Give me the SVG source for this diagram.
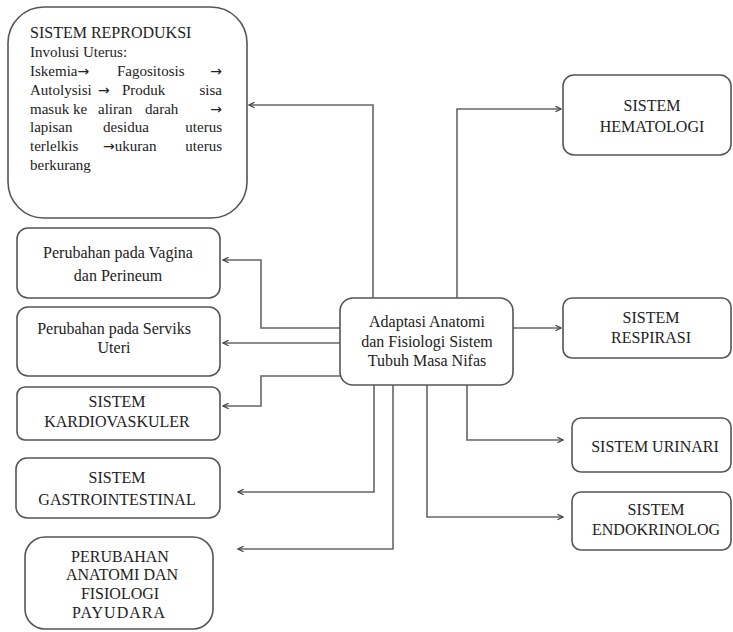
<svg xmlns="http://www.w3.org/2000/svg" width="733" height="632" viewBox="0 0 733 632">
<defs>
<style>
.box{fill:#fff;stroke:#555;stroke-width:1.6}
.t{font-family:'Liberation Serif','Times New Roman','DejaVu Serif',serif;font-size:16px;fill:#222}
.s{font-size:15px}
.a{font-family:'DejaVu Sans',sans-serif;font-size:14px}
.c{text-anchor:middle}
.e{text-anchor:end}
.ln{fill:none;stroke:#666;stroke-width:1.6;marker-end:url(#ah)}
</style>
<marker id="ah" viewBox="0 0 10 10" refX="9" refY="5" markerWidth="7" markerHeight="7" markerUnits="userSpaceOnUse" orient="auto">
<path d="M1,1 L9,5 L1,9" fill="none" stroke="#444" stroke-width="1.8"/>
</marker>
</defs>
<rect width="733" height="632" fill="#fff"/>
<g id="connectors">
<path class="ln" d="M373,298 V105 H249"/>
<path class="ln" d="M457,298 V109 H561"/>
<path class="ln" d="M340,328 H261 V260 H223"/>
<path class="ln" d="M340,343 H223"/>
<path class="ln" d="M340,376 H261 V406 H223"/>
<path class="ln" d="M513,328 H561"/>
<path class="ln" d="M374,385 V492 H238"/>
<path class="ln" d="M393,385 V549 H238"/>
<path class="ln" d="M427,385 V517 H563"/>
<path class="ln" d="M467,385 V440 H563"/>
</g>
<g id="reproduksi">
<rect class="box" x="8" y="7" width="239" height="211" rx="36"/>
<text class="t" x="30" y="38">SISTEM REPRODUKSI</text>
<text class="t s" x="30" y="57">Involusi Uterus:</text>
<text class="t s" x="30" y="76">Iskemia<tspan class="a">→</tspan></text>
<text class="t s" x="117" y="76">Fagositosis</text>
<text class="t s e" x="222" y="76"><tspan class="a">→</tspan></text>
<text class="t s" x="30" y="95">Autolysisi</text>
<text class="t s" x="98" y="95"><tspan class="a">→</tspan></text>
<text class="t s" x="122" y="95">Produk</text>
<text class="t s e" x="222" y="95">sisa</text>
<text class="t s" x="30" y="114">masuk</text>
<text class="t s" x="73" y="114">ke</text>
<text class="t s" x="98" y="114">aliran</text>
<text class="t s" x="145" y="114">darah</text>
<text class="t s e" x="222" y="114"><tspan class="a">→</tspan></text>
<text class="t s" x="30" y="132">lapisan</text>
<text class="t s" x="103" y="132">desidua</text>
<text class="t s e" x="222" y="132">uterus</text>
<text class="t s" x="30" y="151">terlelkis</text>
<text class="t s" x="103" y="151"><tspan class="a">→</tspan>ukuran</text>
<text class="t s e" x="222" y="151">uterus</text>
<text class="t s" x="30" y="170">berkurang</text>
</g>
<g id="vagina">
<rect class="box" x="17" y="228" width="203" height="70" rx="11"/>
<text class="t c" x="118" y="258">Perubahan pada Vagina</text>
<text class="t c" x="118" y="281">dan Perineum</text>
</g>
<g id="serviks">
<rect class="box" x="17" y="307" width="203" height="69" rx="11"/>
<text class="t c" x="114" y="334">Perubahan pada Serviks</text>
<text class="t c" x="114" y="353">Uteri</text>
</g>
<g id="kardiovaskuler">
<rect class="box" x="17" y="387" width="203" height="53" rx="8"/>
<text class="t c" x="117" y="407">SISTEM</text>
<text class="t c" x="117" y="427">KARDIOVASKULER</text>
</g>
<g id="gastrointestinal">
<rect class="box" x="16" y="458" width="204" height="60" rx="11"/>
<text class="t c" x="117" y="483">SISTEM</text>
<text class="t c" x="117" y="505">GASTROINTESTINAL</text>
</g>
<g id="payudara">
<rect class="box" x="25" y="537" width="188" height="92" rx="20"/>
<text class="t c" x="120" y="562">PERUBAHAN</text>
<text class="t c" x="122" y="580">ANATOMI DAN</text>
<text class="t c" x="120" y="599">FISIOLOGI</text>
<text class="t c" x="119" y="618" letter-spacing="1">PAYUDARA</text>
</g>
<g id="center">
<rect class="box" x="340" y="298" width="173" height="87" rx="13"/>
<text class="t c" x="427" y="327">Adaptasi Anatomi</text>
<text class="t c" x="427" y="347">dan Fisiologi Sistem</text>
<text class="t c" x="427" y="366">Tubuh Masa Nifas</text>
</g>
<g id="hematologi">
<rect class="box" x="563" y="75" width="168" height="80" rx="11"/>
<text class="t c" x="652" y="111">SISTEM</text>
<text class="t c" x="652" y="132">HEMATOLOGI</text>
</g>
<g id="respirasi">
<rect class="box" x="563" y="298" width="168" height="60" rx="9"/>
<text class="t c" x="651" y="323">SISTEM</text>
<text class="t c" x="651" y="343">RESPIRASI</text>
</g>
<g id="urinari">
<rect class="box" x="572" y="418" width="159" height="54" rx="9"/>
<text class="t c" x="655" y="452">SISTEM URINARI</text>
</g>
<g id="endokrinolog">
<rect class="box" x="572" y="492" width="159" height="58" rx="9"/>
<text class="t c" x="656" y="515">SISTEM</text>
<text class="t c" x="656" y="535">ENDOKRINOLOG</text>
</g>
</svg>
